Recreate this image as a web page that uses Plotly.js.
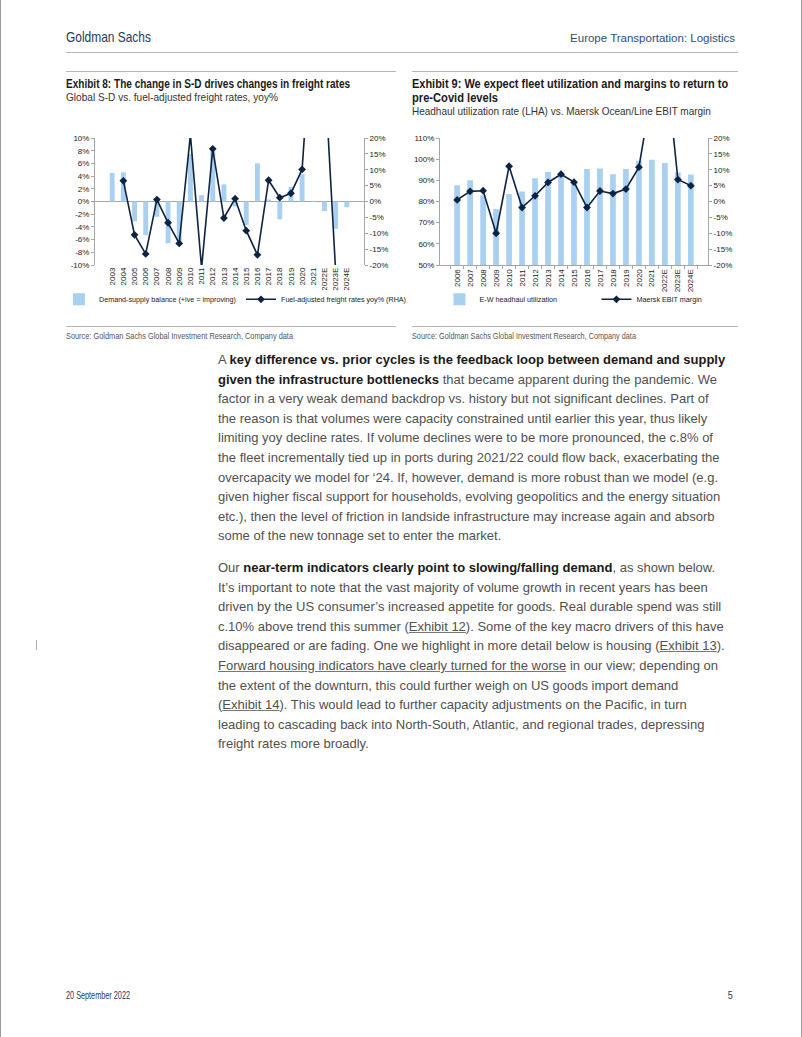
<!DOCTYPE html>
<html>
<head>
<meta charset="utf-8">
<script src="https://cdn.plot.ly/plotly-3.0.1.min.js"></script>
<style>
  html,body{margin:0;padding:0;background:#fff;}
  #page{position:relative;width:802px;height:1037px;overflow:hidden;background:#fff;box-sizing:border-box;border-left:1px solid #9a9a9a;border-right:1px solid #9a9a9a;}
  .abs{position:absolute;white-space:nowrap;}
  .cond{font-family:"Liberation Sans",Arial,sans-serif;display:inline-block;}
  .rule{position:absolute;height:0;border-top:1px solid #b5b5b5;}
  .body{font-family:"Liberation Sans",Arial,sans-serif;font-size:13px;color:#505050;}
  .body .ln{position:absolute;left:217px;white-space:nowrap;line-height:16px;}
  .body b{color:#1a1a1a;}
  .body u{text-decoration:underline;text-decoration-color:#777;}
</style>
</head>
<body>
<div id="page">
  <div class="abs cond fit" data-w="85" style="left:65px;top:28px;font-size:15px;color:#1f3a60;">Goldman Sachs</div>
  <div class="abs cond fit" data-w="165" data-right="1" style="right:66px;top:32px;font-size:11.5px;color:#2a4f7f;">Europe Transportation: Logistics</div>
  <div class="rule" style="left:65px;top:52px;width:672px;"></div>

  <div class="rule" style="left:65px;top:71px;width:330px;"></div>
  <div class="rule" style="left:411px;top:71px;width:326px;"></div>

  <div class="abs cond fit" data-w="284" style="left:65px;top:77px;font-size:12px;font-weight:bold;color:#1a1a1a;">Exhibit 8: The change in S-D drives changes in freight rates</div>
  <div class="abs cond fit" data-w="212" style="left:65px;top:91px;font-size:11.5px;color:#333;">Global S-D vs. fuel-adjusted freight rates, yoy%</div>

  <div class="abs cond fit" data-w="316" style="left:411px;top:77px;font-size:12px;font-weight:bold;color:#1a1a1a;">Exhibit 9: We expect fleet utilization and margins to return to</div>
  <div class="abs cond fit" data-w="86" style="left:411px;top:91px;font-size:12px;font-weight:bold;color:#1a1a1a;">pre-Covid levels</div>
  <div class="abs cond fit" data-w="299" style="left:411px;top:105px;font-size:11.5px;color:#333;">Headhaul utilization rate (LHA) vs. Maersk Ocean/Line EBIT margin</div>

  <div id="chart1" style="position:absolute;left:0px;top:120px;width:440px;height:200px;"></div>
  <div id="chart2" style="position:absolute;left:345px;top:120px;width:440px;height:200px;"></div>

  <div class="rule" style="left:65px;top:326px;width:330px;"></div>
  <div class="rule" style="left:411px;top:326px;width:326px;"></div>
  <div class="abs cond fit" data-w="227" style="left:65px;top:331px;font-size:9px;color:#555;">Source: Goldman Sachs Global Investment Research, Company data</div>
  <div class="abs cond fit" data-w="224" style="left:411px;top:331px;font-size:9px;color:#555;">Source: Goldman Sachs Global Investment Research, Company data</div>

  <div class="body" id="bodytext"></div>

  <div class="abs" style="left:35px;top:640px;width:0;height:10px;border-left:1px solid #aaa;"></div>

  <div class="abs cond fit" data-w="64" style="left:65px;top:989px;font-size:10.5px;color:#1f3a60;">20 September 2022</div>
  <div class="abs cond fit" data-w="5" data-right="1" style="right:68px;top:989px;font-size:10.5px;color:#1f3a60;">5</div>
</div>

<script>
// ---------- Data: Exhibit 8 ----------
const years1 = ['2003','2004','2005','2006','2007','2008','2009','2010','2011','2012','2013','2014','2015','2016','2017','2018','2019','2020','2021','2022E','2023E','2024E'];
const sdBalance = [4.5,4.6,-3.1,-5.3,-2.4,-6.6,-6.5,7.5,1.0,8.0,2.7,-0.8,-3.7,6.0,0.3,-2.8,2.3,4.3,0.1,-1.5,-4.3,-0.9];
const freightYoy = [null,6.5,-10.5,-16.5,0.6,-6.7,-13.2,21,-21,16.6,-5.2,0.9,-9.2,-16.8,6.7,1.2,2.6,10.1,62,42,-22,null];
const leftTicks1 = [-10,-8,-6,-4,-2,0,2,4,6,8,10];
const leftTickText1 = ['-10%','-8%','-6%','-4%','-2%','0%','2%','4%','6%','8%','10%'];
const rightTicks1 = [-20,-15,-10,-5,0,5,10,15,20];
const rightTickText1 = ['-20%','-15%','-10%','-5%','0%','5%','10%','15%','20%'];

// ---------- Data: Exhibit 9 ----------
const years2 = ['2006','2007','2008','2009','2010','2011','2012','2013','2014','2015','2016','2017','2018','2019','2020','2021','2022E','2023E','2024E'];
const ewUtil = [87.7,90.0,83.0,76.5,83.6,84.7,91.0,93.9,93.3,89.5,95.3,95.6,92.9,95.3,99.3,99.7,98.2,93.7,92.8];
const maerskEbit = [0.5,3.2,3.4,-10.0,11.1,-1.9,1.8,6.0,8.6,6.1,-1.9,3.3,2.5,3.9,10.8,35,47,6.9,5.0];
const leftTicks2 = [50,60,70,80,90,100,110];
const leftTickText2 = ['50%','60%','70%','80%','90%','100%','110%'];
const rightTicks2 = rightTicks1;
const rightTickText2 = rightTickText1;

const barColor = '#a9d0f0';
const lineColor = '#0d2340';
const axisColor = '#a6a6a6';
const tickFont = {family:'"Liberation Sans", Arial, sans-serif', size:8, color:'#222'};
const legendFont = {family:'"Liberation Sans", Arial, sans-serif', size:7.2, color:'#222'};

function baseLayout(){
  return {
    width:440, height:200,
    margin:{l:94, r:77, t:18, b:55, pad:0, autoexpand:false},
    paper_bgcolor:'rgba(0,0,0,0)', plot_bgcolor:'rgba(0,0,0,0)',
    showlegend:true,
    bargap:0.56,
    font:tickFont,
  };
}

// Chart 1 : plot area x 94..363, y 138..265 (page coords)
(function(){
  const layout = baseLayout();
  layout.xaxis = {type:'category', tickangle:-90, tickfont:tickFont, showline:false, ticks:'', showgrid:false, zeroline:false, automargin:false};
  layout.yaxis = {range:[-10,10], tickvals:leftTicks1, ticktext:leftTickText1, showgrid:false, zeroline:true, zerolinecolor:axisColor, zerolinewidth:1,
                  showline:true, linecolor:axisColor, ticks:'outside', ticklen:3, tickcolor:axisColor, tickfont:tickFont, automargin:false};
  layout.yaxis2 = {range:[-20,20], tickvals:rightTicks1, ticktext:rightTickText1, overlaying:'y', side:'right', showgrid:false, zeroline:false,
                  showline:true, linecolor:axisColor, ticks:'outside', ticklen:3, tickcolor:axisColor, tickfont:tickFont, automargin:false};
  layout.legend = {orientation:'h', x:-0.134, xanchor:'left', y:-0.27, yanchor:'middle', font:legendFont,
                   itemwidth:30, tracegroupgap:0, bgcolor:'rgba(0,0,0,0)'};
  const traces = [
    {type:'bar', x:years1, y:sdBalance, name:'Demand-supply balance (+ive = improving)', marker:{color:barColor}, yaxis:'y'},
    {type:'scatter', mode:'lines+markers', x:years1, y:freightYoy, name:'Fuel-adjusted freight rates yoy% (RHA)', yaxis:'y2',
     line:{color:lineColor, width:1.6}, marker:{symbol:'diamond', size:6, color:lineColor}, connectgaps:false, cliponaxis:true}
  ];
  Plotly.newPlot('chart1', traces, layout, {staticPlot:true, displayModeBar:false});
})();

// Chart 2 : plot area x 439..707, y 138..265 (page coords)
(function(){
  const layout = baseLayout();
  layout.margin = {l:94, r:78, t:18, b:55, pad:0, autoexpand:false};
  layout.xaxis = {type:'category', tickangle:-90, tickfont:tickFont, showline:true, linecolor:axisColor, ticks:'outside', tickson:'boundaries', ticklen:3, tickcolor:axisColor, showgrid:false, zeroline:false, automargin:false};
  layout.yaxis = {range:[50,110], tickvals:leftTicks2, ticktext:leftTickText2, showgrid:false, zeroline:false,
                  showline:true, linecolor:axisColor, ticks:'outside', ticklen:3, tickcolor:axisColor, tickfont:tickFont, automargin:false};
  layout.yaxis2 = {range:[-20,20], tickvals:rightTicks2, ticktext:rightTickText2, overlaying:'y', side:'right', showgrid:false, zeroline:false,
                  showline:true, linecolor:axisColor, ticks:'outside', ticklen:3, tickcolor:axisColor, tickfont:tickFont, automargin:false};
  layout.legend = {orientation:'h', x:-0.002, xanchor:'left', y:-0.27, yanchor:'middle', font:legendFont,
                   itemwidth:30, entrywidth:112, entrywidthmode:'pixels', bgcolor:'rgba(0,0,0,0)'};
  const traces = [
    {type:'bar', x:years2, y:ewUtil, name:'E-W headhaul utilization', marker:{color:barColor}, yaxis:'y'},
    {type:'scatter', mode:'lines+markers', x:years2, y:maerskEbit, name:'Maersk EBIT margin', yaxis:'y2',
     line:{color:lineColor, width:1.6}, marker:{symbol:'diamond', size:6, color:lineColor}, cliponaxis:true}
  ];
  Plotly.newPlot('chart2', traces, layout, {staticPlot:true, displayModeBar:false});
})();

// ---------- Body text ----------
const para1 = [
  'A <b>key difference vs. prior cycles is the feedback loop between demand and supply</b>',
  '<b>given the infrastructure bottlenecks</b> that became apparent during the pandemic. We',
  'factor in a very weak demand backdrop vs. history but not significant declines. Part of',
  'the reason is that volumes were capacity constrained until earlier this year, thus likely',
  'limiting yoy decline rates. If volume declines were to be more pronounced, the c.8% of',
  'the fleet incrementally tied up in ports during 2021/22 could flow back, exacerbating the',
  'overcapacity we model for \u201824. If, however, demand is more robust than we model (e.g.',
  'given higher fiscal support for households, evolving geopolitics and the energy situation',
  'etc.), then the level of friction in landside infrastructure may increase again and absorb',
  'some of the new tonnage set to enter the market.'
];
const para2 = [
  'Our <b>near-term indicators clearly point to slowing/falling demand</b>, as shown below.',
  'It\u2019s important to note that the vast majority of volume growth in recent years has been',
  'driven by the US consumer\u2019s increased appetite for goods. Real durable spend was still',
  'c.10% above trend this summer (<u>Exhibit 12</u>). Some of the key macro drivers of this have',
  'disappeared or are fading. One we highlight in more detail below is housing (<u>Exhibit 13</u>).',
  '<u>Forward housing indicators have clearly turned for the worse</u> in our view; depending on',
  'the extent of the downturn, this could further weigh on US goods import demand',
  '(<u>Exhibit 14</u>). This would lead to further capacity adjustments on the Pacific, in turn',
  'leading to cascading back into North-South, Atlantic, and regional trades, depressing',
  'freight rates more broadly.'
];
(function(){
  const host = document.getElementById('bodytext');
  const lh = 19.6;
  function addPara(lines, centerY){
    lines.forEach((t,i)=>{
      const d = document.createElement('div');
      d.className = 'ln';
      d.style.top = (centerY + i*lh - 8) + 'px';
      d.innerHTML = t;
      host.appendChild(d);
    });
  }
  addPara(para1, 360);
  addPara(para2, 568);
})();

// ---------- condensed-text fitting (horizontal scale to reference widths) ----------
document.querySelectorAll('.fit').forEach(el=>{
  const target = parseFloat(el.dataset.w);
  const w = el.getBoundingClientRect().width;
  if (w > 0) {
    const s = target / w;
    el.style.transformOrigin = el.dataset.right ? 'right center' : 'left center';
    el.style.transform = 'scaleX(' + s.toFixed(3) + ')';
  }
});
</script>
</body>
</html>
